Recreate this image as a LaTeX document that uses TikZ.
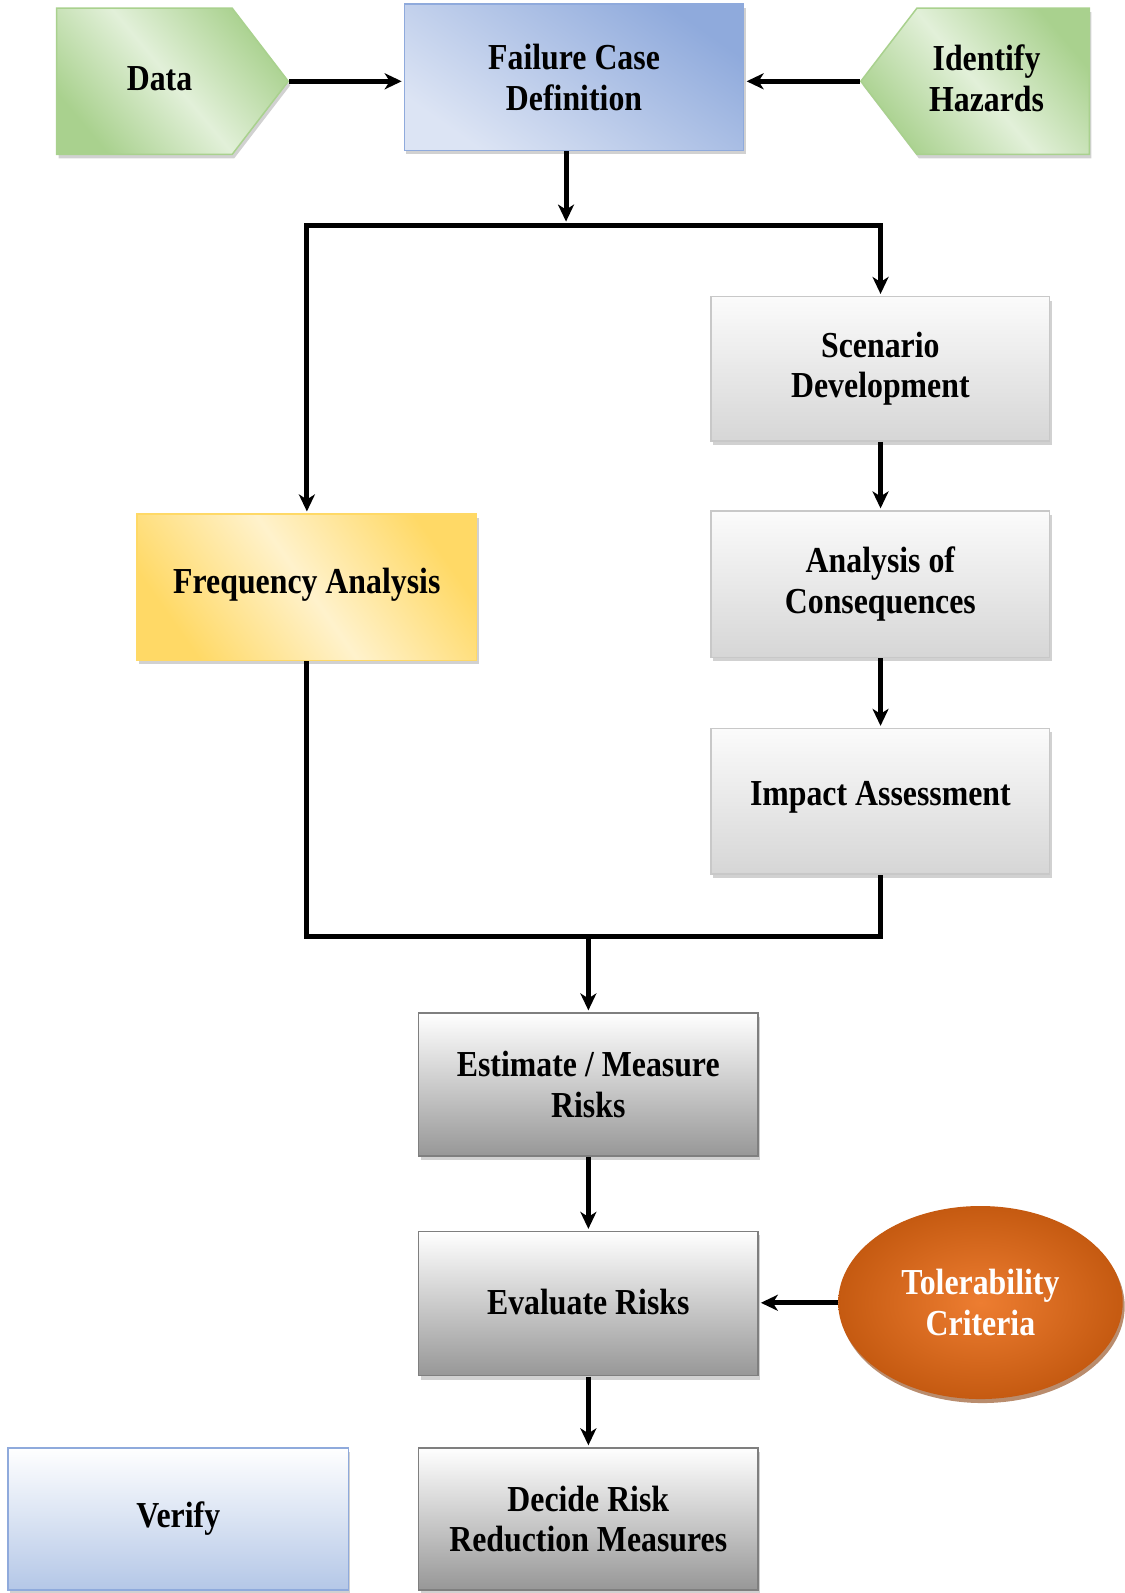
\documentclass[tikz,border=0pt]{standalone}
\usepackage{fontspec}
\setmainfont{Liberation Serif}[FakeStretch=0.87]
\usetikzlibrary{shadows,arrows.meta,shapes.geometric,shapes.symbols}
\definecolor{gdark}{HTML}{A9D18E}
\definecolor{glight}{HTML}{E2F0D9}
\definecolor{bdark}{HTML}{8FAADC}
\definecolor{blight}{HTML}{DCE4F4}
\definecolor{ydark}{HTML}{FFD966}
\definecolor{ylight}{HTML}{FFF2CC}
\definecolor{lgtop}{HTML}{FBFBFB}
\definecolor{lgbot}{HTML}{D6D6D6}
\definecolor{lgborder}{HTML}{C8C8C8}
\definecolor{dgbot}{HTML}{979797}
\definecolor{dgborder}{HTML}{7F7F7F}
\definecolor{vbot}{HTML}{B4C7E7}
\definecolor{oin}{HTML}{ED7D31}
\definecolor{oout}{HTML}{C55A11}
\tikzset{
  lbl/.style={font=\fontsize{36}{40}\selectfont\bfseries, align=center, inner sep=0pt},
  shad/.style={drop shadow={shadow xshift=2pt, shadow yshift=-4pt, fill=black!40, opacity=0.45}},
  boxbase/.style={lbl, rectangle, line width=1.5pt, shad},
  greenarrow/.style={signal, signal pointer angle=105, draw=gdark, line width=1.5pt, inner sep=0pt,
     top color=gdark, bottom color=gdark, middle color=glight, shading angle=-50, shad},
  fcdbox/.style={boxbase, draw=bdark, top color=bdark, bottom color=blight, shading angle=-35},
  yellowbox/.style={boxbase, draw=ydark, top color=ydark, bottom color=ydark, middle color=ylight, shading angle=-55},
  lgbox/.style={boxbase, draw=lgborder, top color=lgtop, bottom color=lgbot},
  dgbox/.style={boxbase, draw=dgborder, top color=white, bottom color=dgbot},
  verbox/.style={boxbase, draw=bdark, top color=white, bottom color=vbot},
  tolell/.style={lbl, ellipse, inner color=oin, outer color=oout, text=white,
     drop shadow={shadow xshift=2pt, shadow yshift=-4pt, fill=oout!70!black, opacity=0.6}},
  conn/.style={line width=5pt, black},
  arr/.style={conn, -{Stealth[length=17pt,width=16pt,inset=5pt]}, shorten >=2pt},
}
\begin{document}
\begin{tikzpicture}[x=1pt,y=-1pt,scale=1.016,every node/.append style={transform shape}]
\node[greenarrow, signal to=east, minimum width=228pt, minimum height=144pt, anchor=west] (data) at (55,80) {};
\node[lbl] (datalbl) at (157,77) {Data};
\node[fcdbox, minimum width=334pt, minimum height=144pt] (fcd) at (565,76) {Failure Case\\Definition};
\node[greenarrow, signal to=west, minimum width=225pt, minimum height=144pt, anchor=east] (haz) at (1073,80) {};
\node[lbl] (hazlbl) at (971,77) {Identify\\Hazards};

\node[yellowbox, minimum width=334pt, minimum height=144pt] (freq) at (302,578) {\raisebox{12pt}{Frequency Analysis}};
\node[lgbox, minimum width=333pt, minimum height=142pt] (scen) at (866.5,363) {Scenario\\Development};
\node[lgbox, minimum width=333pt, minimum height=144pt] (cons) at (866.5,575) {Analysis of\\Consequences};
\node[lgbox, minimum width=333pt, minimum height=143pt] (imp) at (866.5,788.5) {\raisebox{15pt}{Impact Assessment}};

\node[dgbox, minimum width=334pt, minimum height=141pt] (est) at (579,1067.5) {Estimate / Measure\\Risks};
\node[dgbox, minimum width=334pt, minimum height=142pt] (eval) at (579,1283) {\raisebox{3pt}{Evaluate Risks}};
\node[tolell, minimum width=280pt, minimum height=190pt] (tol) at (965,1282) {Tolerability\\Criteria};
\node[dgbox, minimum width=334pt, minimum height=140pt] (dec) at (579,1495) {Decide Risk\\Reduction Measures};
\node[verbox, minimum width=335pt, minimum height=140pt] (ver) at (175.5,1495) {Verify};

\coordinate (j1) at (557,222);
\coordinate (j2) at (579,922);

\draw[arr] (data.east) -- (data.east -| fcd.west);
\draw[arr] (haz.west) -- (haz.west -| fcd.east);
\draw[arr, shorten >=4pt] (fcd.south -| j1) -- (j1);
\draw[arr] (j1) -| (freq.north);
\draw[arr] (j1) -| (scen.north);
\draw[arr] (scen.south) -- (cons.north);
\draw[arr] (cons.south) -- (imp.north);
\draw[conn] (freq.south) -- (freq.south |- j2) -- (imp.south |- j2) -- (imp.south);
\draw[arr] (j2) -- (est.north);
\draw[arr] (est.south) -- (eval.north);
\draw[arr] (tol.west) -- (tol.west -| eval.east);
\draw[arr] (eval.south) -- (dec.north);

\pgfresetboundingbox
\path[use as bounding box] (0,0) rectangle (1106.3,1567.9);
\end{tikzpicture}
\end{document}
